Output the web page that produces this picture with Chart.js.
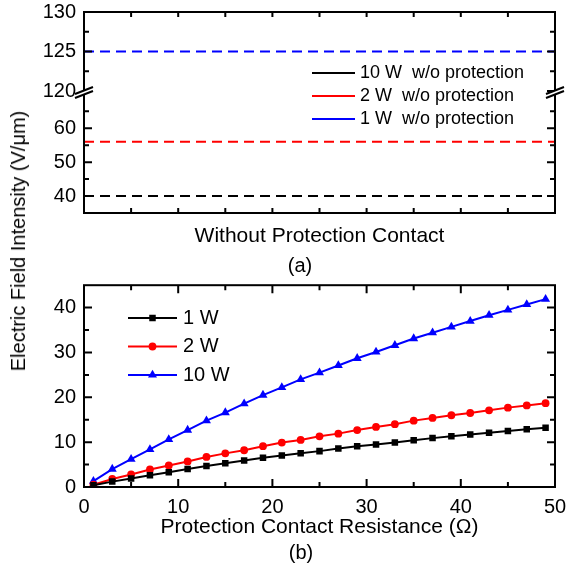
<!DOCTYPE html>
<html>
<head>
<meta charset="utf-8">
<script src="https://cdn.jsdelivr.net/npm/chart.js@4.4.0/dist/chart.umd.min.js"></script>
<style>
  body { margin: 0; background: #fff; }
  #wrap { position: relative; width: 567px; height: 569px; font-family: "Liberation Sans", Arial, sans-serif; color: #000; }
  canvas { position: absolute; left: 0; }
  #chartA { top: 0; }
  #chartB { top: 280px; }
  .lbl { position: absolute; transform: translate(-50%, -50%); white-space: nowrap; font-size: 20px; line-height: 20px; }
  #yTitle { left: 18px; top: 241px; transform: translate(-50%, -50%) rotate(-90deg); }
  #tagA { left: 300px; top: 265px; }
  #tagB { left: 301px; top: 552px; }
</style>
</head>
<body>
<div id="wrap">
  <canvas id="chartA" width="567" height="280"></canvas>
  <canvas id="chartB" width="567" height="289"></canvas>
  <div class="lbl" id="yTitle">Electric Field Intensity (V/μm)</div>
  <div class="lbl" id="tagA">(a)</div>
  <div class="lbl" id="tagB">(b)</div>
</div>
<script>
// (a) field level without any protection contact
const noProtLabels = ["10 W  w/o protection", "2 W  w/o protection", "1 W  w/o protection"];
const noProtField = [40, 56, 125];
const noProtColors = ["#000000", "#ff0000", "#0000ff"];
const noProtAxis = ["yLow", "yLow", "yHigh"];
const spanX = [0, 10];
const highTicks = [120, 125, 130];
const lowTicks = [40, 50, 60];

// (b) field vs. protection contact resistance
const resistance = [1, 3, 5, 7, 9, 11, 13, 15, 17, 19, 21, 23, 25, 27, 29, 31, 33, 35, 37, 39, 41, 43, 45, 47, 49];
const field1W = [0.4, 1.2, 1.9, 2.6, 3.3, 4.0, 4.7, 5.3, 5.9, 6.5, 7.0, 7.5, 8.0, 8.6, 9.1, 9.5, 9.9, 10.4, 10.9, 11.3, 11.7, 12.1, 12.5, 12.9, 13.2];
const field2W = [0.5, 1.8, 2.8, 3.9, 4.8, 5.7, 6.7, 7.5, 8.2, 9.1, 9.9, 10.5, 11.3, 11.9, 12.7, 13.4, 14.0, 14.8, 15.4, 16.0, 16.5, 17.1, 17.7, 18.2, 18.7];
const field10W = [1.3, 4.0, 6.2, 8.4, 10.6, 12.7, 14.8, 16.6, 18.6, 20.5, 22.2, 24.0, 25.5, 27.1, 28.7, 30.1, 31.6, 33.1, 34.4, 35.7, 37.0, 38.3, 39.5, 40.7, 41.9];
const resTicks = [0, 10, 20, 30, 40, 50];
const fieldTicks = [0, 10, 20, 30, 40];

Chart.defaults.font.family = '"Liberation Sans", Arial, sans-serif';
Chart.defaults.font.size = 20;
Chart.defaults.color = "#000";

const FONT = '"Liberation Sans", Arial, sans-serif';

// box around the plot, inward tick marks and the "//" axis break
const frame = {
  id: "frame",
  afterDatasetsDraw(chart, args, opts) {
    const ctx = chart.ctx;
    const a = chart.chartArea;
    ctx.save();
    ctx.strokeStyle = "#000";
    ctx.lineWidth = 2;
    ctx.setLineDash([]);
    (opts.marks || []).forEach(m => {
      const s = chart.scales[m.scale];
      ctx.beginPath();
      m.values.forEach(v => {
        const p = s.getPixelForValue(v);
        if (s.isHorizontal()) {
          ctx.moveTo(p, a.bottom); ctx.lineTo(p, a.bottom - m.len);
          ctx.moveTo(p, a.top); ctx.lineTo(p, a.top + m.len);
        } else {
          ctx.moveTo(a.left, p); ctx.lineTo(a.left + m.len, p);
          ctx.moveTo(a.right, p); ctx.lineTo(a.right - m.len, p);
        }
      });
      ctx.stroke();
    });
    ctx.strokeRect(a.left, a.top, a.right - a.left, a.bottom - a.top);
    if (opts.breakAt) {
      const y = chart.scales[opts.breakAt].bottom + 1;
      [a.left, a.right].forEach(x => {
        ctx.fillStyle = "#fff";
        ctx.beginPath();
        ctx.moveTo(x - 9, y + 2); ctx.lineTo(x + 9, y - 5);
        ctx.lineTo(x + 9, y - 1); ctx.lineTo(x - 9, y + 6);
        ctx.closePath();
        ctx.fill();
        ctx.lineWidth = 2;
        ctx.beginPath();
        ctx.moveTo(x - 9, y + 2); ctx.lineTo(x + 9, y - 5);
        ctx.moveTo(x - 9, y + 6); ctx.lineTo(x + 9, y - 1);
        ctx.stroke();
      });
    }
    ctx.restore();
  }
};

// legend drawn as line (+ marker) and label inside the plot
const keyBox = {
  id: "keyBox",
  afterDraw(chart, args, opts) {
    const ctx = chart.ctx;
    ctx.save();
    ctx.font = opts.size + "px " + FONT;
    ctx.textBaseline = "middle";
    ctx.textAlign = "left";
    chart.data.datasets.forEach((ds, i) => {
      const y = opts.y + i * opts.gap;
      ctx.setLineDash([]);
      ctx.strokeStyle = ds.borderColor;
      ctx.lineWidth = 2;
      ctx.beginPath();
      ctx.moveTo(opts.x, y);
      ctx.lineTo(opts.x + opts.len, y);
      ctx.stroke();
      if (ds.pointRadius && Chart.helpers && Chart.helpers.drawPoint) {
        ctx.fillStyle = ds.borderColor;
        Chart.helpers.drawPoint(ctx, { pointStyle: ds.pointStyle, radius: ds.pointRadius, borderWidth: 0, rotation: 0 }, opts.x + opts.len / 2, y);
      }
      ctx.fillStyle = "#000";
      ctx.fillText(ds.label, opts.x + opts.len + opts.pad, y);
    });
    ctx.restore();
  }
};

function fixedTicks(list) {
  return s => { s.ticks = list.map(v => ({ value: v })); };
}

// panel (a)
new Chart(document.getElementById("chartA"), {
  type: "line",
  data: {
    datasets: noProtField.map((v, i) => ({
      label: noProtLabels[i],
      data: spanX.map(x => ({ x: x, y: v })),
      yAxisID: noProtAxis[i],
      borderColor: noProtColors[i],
      borderWidth: 2,
      borderDash: [10, 6],
      pointRadius: 0
    }))
  },
  options: {
    responsive: false,
    animation: false,
    events: [],
    layout: { padding: { top: 12, right: 12, left: 0, bottom: 0 } },
    plugins: {
      legend: { display: false },
      tooltip: { enabled: false },
      frame: {
        breakAt: "yHigh",
        marks: [
          { scale: "x", values: [1, 2, 3, 4, 5, 6, 7, 8, 9], len: 5 },
          { scale: "yHigh", values: highTicks, len: 8 },
          { scale: "yHigh", values: [122.5, 127.5], len: 5 },
          { scale: "yLow", values: lowTicks, len: 8 },
          { scale: "yLow", values: [45, 55, 65], len: 5 }
        ]
      },
      keyBox: { x: 312, y: 73, gap: 23, len: 43, pad: 5, size: 18 }
    },
    scales: {
      x: {
        type: "linear", min: spanX[0], max: spanX[1],
        grid: { display: false, drawTicks: false },
        border: { display: false },
        ticks: { display: false },
        afterFit: s => { s.height = 67; s.paddingLeft = 0; s.paddingRight = 0; },
        title: { display: true, text: "Without Protection Contact", font: { size: 21 }, padding: { top: 0, bottom: 31 } }
      },
      yLow: {
        type: "linear", position: "left", stack: "a", stackWeight: 122,
        min: 35, max: 71,
        grid: { display: false, drawTicks: false },
        border: { display: false },
        ticks: { padding: 8, autoSkip: false },
        afterBuildTicks: fixedTicks(lowTicks),
        afterFit: s => { s.width = 84; s.paddingTop = 0; s.paddingBottom = 0; }
      },
      yHigh: {
        type: "linear", position: "left", stack: "a", stackWeight: 79,
        min: 120, max: 130,
        grid: { display: false, drawTicks: false },
        border: { display: false },
        ticks: { padding: 8, autoSkip: false },
        afterBuildTicks: fixedTicks(highTicks),
        afterFit: s => { s.width = 84; s.paddingTop = 0; s.paddingBottom = 0; }
      }
    }
  },
  plugins: [frame, keyBox]
});

// panel (b)
const seriesB = [
  { label: "1 W", values: field1W, color: "#000000", style: "rect", r: 4.6 },
  { label: "2 W", values: field2W, color: "#ff0000", style: "circle", r: 3.9 },
  { label: "10 W", values: field10W, color: "#0000ff", style: "triangle", r: 5.2 }
];

new Chart(document.getElementById("chartB"), {
  type: "line",
  data: {
    datasets: seriesB.map(s => ({
      label: s.label,
      data: resistance.map((x, i) => ({ x: x, y: s.values[i] })),
      borderColor: s.color,
      backgroundColor: s.color,
      borderWidth: 2,
      pointStyle: s.style,
      pointRadius: s.r,
      pointBorderWidth: 0,
      pointBackgroundColor: s.color
    }))
  },
  options: {
    responsive: false,
    animation: false,
    events: [],
    layout: { padding: { top: 5, right: 12, left: 0, bottom: 0 } },
    plugins: {
      legend: { display: false },
      tooltip: { enabled: false },
      frame: {
        marks: [
          { scale: "x", values: [10, 20, 30, 40], len: 8 },
          { scale: "x", values: [5, 15, 25, 35, 45], len: 5 },
          { scale: "y", values: [10, 20, 30, 40], len: 8 },
          { scale: "y", values: [5, 15, 25, 35], len: 5 }
        ]
      },
      keyBox: { x: 128, y: 38, gap: 28.5, len: 49, pad: 6, size: 20 }
    },
    scales: {
      x: {
        type: "linear", min: 0, max: 50,
        grid: { display: false, drawTicks: false },
        border: { display: false },
        ticks: { padding: 8, maxRotation: 0, autoSkip: false },
        afterBuildTicks: fixedTicks(resTicks),
        afterFit: s => { s.height = 82; s.paddingLeft = 0; s.paddingRight = 0; },
        title: { display: true, text: "Protection Contact Resistance (Ω)", font: { size: 21 }, padding: { top: 0, bottom: 29 } }
      },
      y: {
        type: "linear", min: 0, max: 45,
        grid: { display: false, drawTicks: false },
        border: { display: false },
        ticks: { padding: 8, autoSkip: false },
        afterBuildTicks: fixedTicks(fieldTicks),
        afterFit: s => { s.width = 84; s.paddingTop = 0; s.paddingBottom = 0; }
      }
    }
  },
  plugins: [frame, keyBox]
});
</script>
</body>
</html>
